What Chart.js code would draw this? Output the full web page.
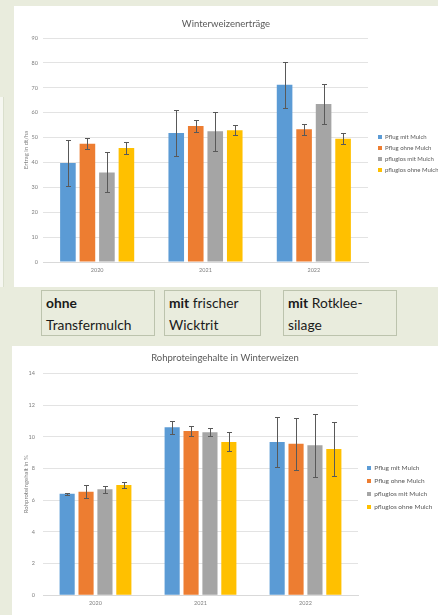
<!DOCTYPE html>
<html><head><meta charset="utf-8">
<script src="https://cdn.jsdelivr.net/npm/chart.js@4.4.1/dist/chart.umd.min.js"></script>
<style>
html,body{margin:0;padding:0;}
body{width:438px;height:615px;background:#e9ecdd;position:relative;overflow:hidden;font-family:Lato,"Open Sans",sans-serif;}
.panel{position:absolute;background:#fff;overflow:hidden;}
#p1{left:14px;top:6px;width:424px;height:281px;}
#p2{left:12px;top:346px;width:426px;height:269px;}
#strip{position:absolute;left:0;top:97px;width:3px;height:190px;background:#f6f7f1;border-right:1px solid #dadfcd;}
.box{position:absolute;top:290px;height:46px;border:1px solid #bcc3ad;box-sizing:border-box;padding:1px 0 0 4px;font-size:13.8px;line-height:22px;color:#1a1a1a;background:#e9ecdd;}
.box b{font-weight:700;}
canvas{display:block;}
</style></head><body>
<div id="strip"></div>
<div class="panel" id="p1"><canvas id="c1" width="424" height="281" style="width:424px;height:281px"></canvas></div>
<div class="box" style="left:41px;width:114px;"><b>ohne</b><br>Transfermulch</div>
<div class="box" style="left:164px;width:97px;"><b>mit</b> frischer<br>Wicktrit</div>
<div class="box" style="left:283px;width:114px;"><b>mit</b> Rotklee-<br>silage</div>
<div class="panel" id="p2"><canvas id="c2" width="426" height="269" style="width:426px;height:269px"></canvas></div>
<script>
// ---- data ----
const years = ['2020', '2021', '2022'];
const seriesNames = ['Pflug mit Mulch', 'Pflug ohne Mulch', 'pfluglos mit Mulch', 'pfluglos ohne Mulch'];

// Winterweizenerträge (dt/ha)
const yieldPflugMit      = [39.8, 51.8, 71.2];
const yieldPflugOhne     = [47.5, 54.6, 53.3];
const yieldPfluglosMit   = [36.0, 52.5, 63.5];
const yieldPfluglosOhne  = [45.8, 52.9, 49.5];
const yieldErrPflugMit     = [9.3, 9.2, 9.2];
const yieldErrPflugOhne    = [2.2, 2.3, 2.1];
const yieldErrPfluglosMit  = [8.0, 7.9, 8.0];
const yieldErrPfluglosOhne = [2.3, 2.0, 2.2];
const yieldTicks = [0, 10, 20, 30, 40, 50, 60, 70, 80, 90];

// Rohproteingehalte (%)
const protPflugMit      = [6.40, 10.60, 9.67];
const protPflugOhne     = [6.53, 10.36, 9.56];
const protPfluglosMit   = [6.68, 10.28, 9.46];
const protPfluglosOhne  = [6.95, 9.67, 9.22];
const protErrPflugMit     = [0.08, 0.42, 1.60];
const protErrPflugOhne    = [0.40, 0.33, 1.65];
const protErrPfluglosMit  = [0.20, 0.26, 2.00];
const protErrPfluglosOhne = [0.18, 0.60, 1.70];
const protTicks = [0, 2, 4, 6, 8, 10, 12, 14];

// ---- styling ----
const seriesColors = ['#5b9bd5', '#ed7d31', '#a5a5a5', '#ffc000'];
const FONT = 'Lato, "Open Sans", sans-serif';
Chart.defaults.font.family = FONT;

const errorBarPlugin = {
  id: 'errorBars',
  afterDatasetsDraw(chart, args, opts) {
    const ctx = chart.ctx, ys = chart.scales.y;
    chart.data.datasets.forEach((ds, i) => {
      const meta = chart.getDatasetMeta(i);
      if (meta.hidden || !ds.errors) return;
      meta.data.forEach((bar, j) => {
        const v = ds.data[j], e = ds.errors[j];
        const yt = Math.round(ys.getPixelForValue(v + e)) + 0.5;
        const yb = Math.round(ys.getPixelForValue(v - e)) + 0.5;
        const x = Math.round(bar.x) + 0.5;
        ctx.save();
        ctx.strokeStyle = opts.color || '#595959';
        ctx.lineWidth = 1;
        ctx.beginPath();
        ctx.moveTo(x, yt); ctx.lineTo(x, yb);
        ctx.moveTo(x - opts.cap, yt); ctx.lineTo(x + opts.cap, yt);
        ctx.moveTo(x - opts.cap, yb); ctx.lineTo(x + opts.cap, yb);
        ctx.stroke();
        ctx.restore();
      });
    });
  }
};

const legendPlace = {
  id: 'legendPlace',
  afterLayout(chart, args, opts) {
    const l = chart.legend; if (!l) return;
    const lab = chart.options.plugins.legend.labels;
    const fs = lab.font.size, pad = lab.padding, n = chart.data.datasets.length;
    const dx = (chart.chartArea.right + opts.gap) - (l.left + pad);
    const curStart = (l.top + pad + l.bottom - n * (fs + pad)) / 2;
    const dy = (opts.firstCenter - fs / 2) - curStart;
    l.left += dx; l.right += dx; l.top += dy; l.bottom += dy;
  }
};

function makeDatasets(values, errors) {
  return seriesNames.map((name, i) => ({
    label: name,
    data: values[i],
    errors: errors[i],
    backgroundColor: seriesColors[i],
    borderWidth: 0,
    categoryPercentage: 0.72,
    barPercentage: 0.8
  }));
}

function makeChart(id, cfg) {
  const ticks = cfg.ticks;
  return new Chart(document.getElementById(id), {
    type: 'bar',
    data: { labels: years, datasets: makeDatasets(cfg.values, cfg.errors) },
    options: {
      responsive: false,
      animation: false,
      layout: { padding: 0 },
      plugins: {
        title: {
          display: true, text: cfg.title, color: '#595959',
          font: { size: 9.5, weight: 'normal', family: FONT },
          padding: cfg.titlePad
        },
        legend: {
          position: 'right', align: 'center', fullSize: false,
          maxWidth: cfg.legendMax,
          labels: {
            boxWidth: 4, boxHeight: 4, padding: cfg.legendPad, color: '#595959',
            font: { size: cfg.legendFont, family: FONT }
          }
        },
        tooltip: { enabled: false },
        errorBars: { cap: 2.5, color: '#595959' },
        legendPlace: { gap: cfg.legendGap, firstCenter: cfg.legendFirst }
      },
      scales: {
        x: {
          grid: { display: false, drawTicks: false },
          border: { display: true, color: '#d9d9d9' },
          ticks: { color: '#7f7f7f', font: { size: 5.5 }, padding: cfg.xPad },
          afterFit(s) { s.height = cfg.xHeight; }
        },
        y: {
          min: ticks[0], max: ticks[ticks.length - 1],
          afterBuildTicks(s) { s.ticks = ticks.map(v => ({ value: v })); },
          grid: { color: '#e3e3e3', drawTicks: false },
          border: { display: false },
          ticks: { color: '#7f7f7f', font: { size: 5.5 }, padding: cfg.yPad },
          title: {
            display: true, text: cfg.yTitle, color: '#7f7f7f',
            font: { size: 6 }, padding: { top: cfg.yTitlePad, bottom: 0 }
          },
          afterFit(s) { s.width = cfg.yWidth; }
        }
      }
    },
    plugins: [errorBarPlugin, legendPlace]
  });
}

makeChart('c1', {
  title: 'Winterweizenerträge',
  values: [yieldPflugMit, yieldPflugOhne, yieldPfluglosMit, yieldPfluglosOhne],
  errors: [yieldErrPflugMit, yieldErrPflugOhne, yieldErrPfluglosMit, yieldErrPfluglosOhne],
  ticks: yieldTicks,
  yTitle: 'Ertrag in dt/ha',
  titlePad: { top: 12.3, bottom: 8.3 },
  legendMax: 70, legendPad: 5, legendFont: 6, legendGap: 10, legendFirst: 131,
  xPad: 5, xHeight: 25, yPad: 5, yWidth: 29, yTitlePad: 8.4
});

makeChart('c2', {
  title: 'Rohproteingehalte in Winterweizen',
  values: [protPflugMit, protPflugOhne, protPfluglosMit, protPfluglosOhne],
  errors: [protErrPflugMit, protErrPflugOhne, protErrPfluglosMit, protErrPfluglosOhne],
  ticks: protTicks,
  yTitle: 'Rohproteingehalt in %',
  titlePad: { top: 6, bottom: 9.9 },
  legendMax: 80, legendPad: 6.5, legendFont: 6.5, legendGap: 9, legendFirst: 122,
  xPad: 4.4, xHeight: 19.7, yPad: 8, yWidth: 31, yTitlePad: 10.4
});
</script>
</body></html>
